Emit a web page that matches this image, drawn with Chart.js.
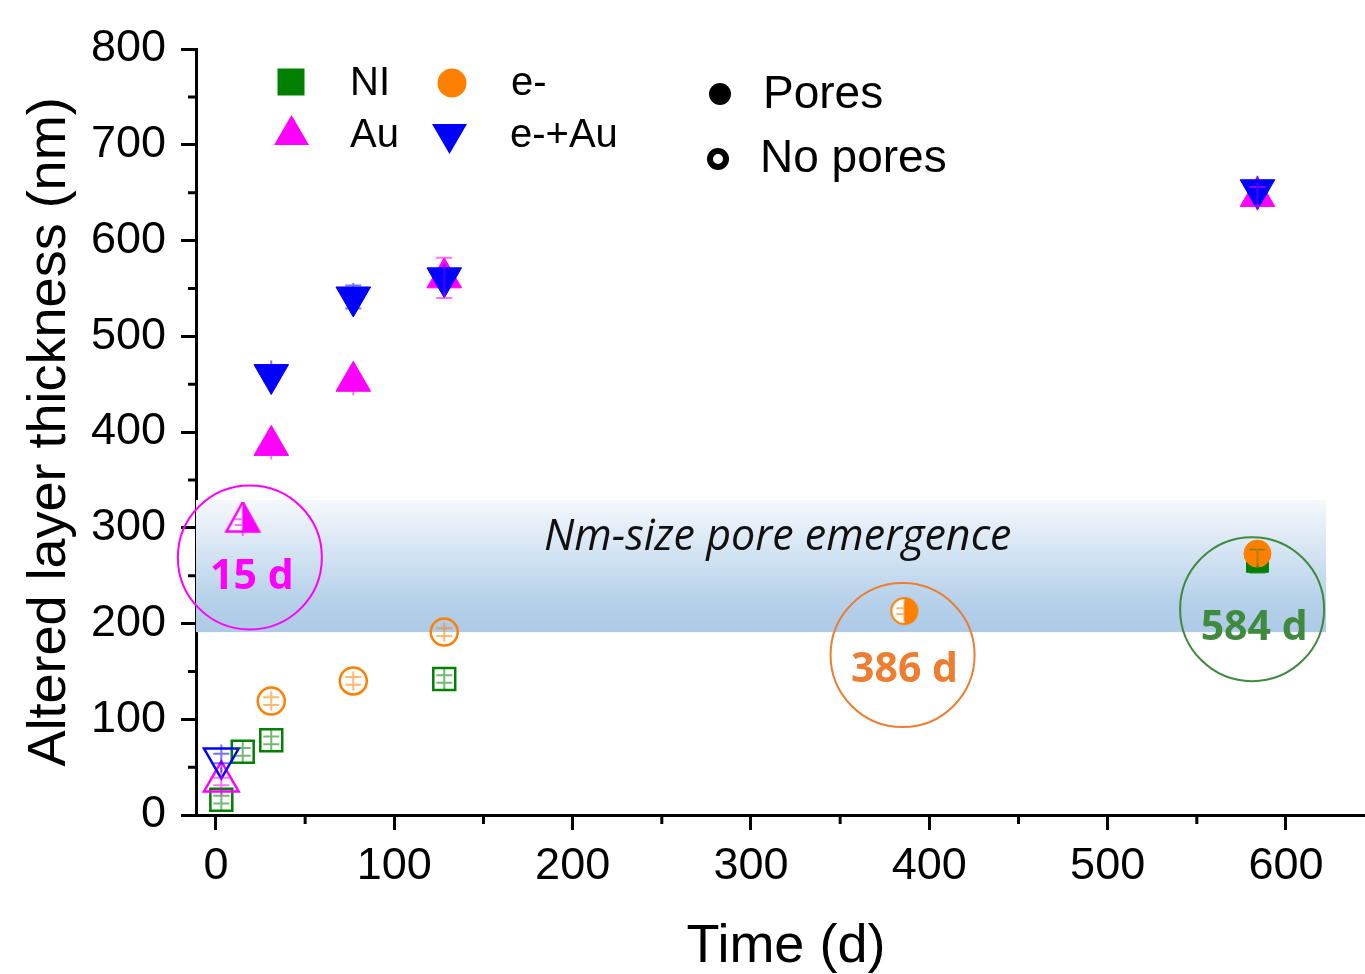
<!DOCTYPE html>
<html>
<head>
<meta charset="utf-8">
<script src="https://cdn.jsdelivr.net/npm/chart.js"></script>
<style>
  body { margin: 0; background: #fff; }
  #wrap { width: 1365px; height: 974px; }
</style>
</head>
<body>
<div id="wrap"><canvas id="myChart" width="1365" height="974"></canvas></div>
<script>
// data
var niX = [3, 15, 31, 128, 584];
var niY = [16, 66, 78, 142, 265];
var niErr = [4, 4, 4, 4, 12];
var niState = ['open', 'open', 'open', 'open', 'filled'];

var eX = [31, 77, 128, 386, 584];
var eY = [119, 140, 191, 213, 273];
var eErr = [4, 4, 4, 3, 3];
var eState = ['open', 'open', 'open', 'half', 'filled'];

var auX = [3, 15, 31, 77, 128, 584];
var auY = [35, 306, 386, 453, 561, 646];
var auErr = [4, 3, 3, 3, 21, 10];
var auState = ['open', 'half', 'filled', 'filled', 'filled', 'filled'];

var eauX = [3, 31, 77, 128, 584];
var eauY = [59, 460, 541, 561, 653];
var eauErr = [5, 3, 12, 5, 5];
var eauState = ['open', 'filled', 'filled', 'filled', 'filled'];

var xTicks = [0, 100, 200, 300, 400, 500, 600];
var yTicks = [0, 100, 200, 300, 400, 500, 600, 700, 800];

// pore emergence band and day labels
var bandX = [-11.2, 622.5];
var bandY = [191, 329];
var dayLabels = ['15 d', '386 d', '584 d'];
var dayCircleX = [19, 385, 581];
var dayCircleY = [269, 167, 215];
var dayTextY = [248, 151, 195];

var GREEN = '#008000', ORANGE = '#ff8000', MAGENTA = '#ff00ff', BLUE = '#0000ff';

function halfTriangle(color) {
  var c = document.createElement('canvas');
  c.width = 38; c.height = 40;
  var g = c.getContext('2d');
  var cx = 19, cy = 20, r = 20, hw = r * Math.sin(Math.PI / 3);
  g.beginPath();
  g.moveTo(cx, cy - r); g.lineTo(cx - hw, cy + r / 2); g.lineTo(cx + hw, cy + r / 2); g.closePath();
  g.fillStyle = '#fff'; g.fill();
  g.beginPath();
  g.moveTo(cx, cy - r); g.lineTo(cx + hw, cy + r / 2); g.lineTo(cx, cy + r / 2); g.closePath();
  g.fillStyle = color; g.fill();
  g.beginPath();
  g.moveTo(cx, cy - r); g.lineTo(cx - hw + 1, cy + r / 2 - 0.5); g.lineTo(cx + hw - 1, cy + r / 2 - 0.5); g.closePath();
  g.strokeStyle = color; g.lineWidth = 2.5; g.stroke();
  return c;
}

function halfCircle(color) {
  var c = document.createElement('canvas');
  c.width = 32; c.height = 32;
  var g = c.getContext('2d');
  g.beginPath(); g.arc(16, 16, 13, 0, Math.PI * 2); g.fillStyle = '#fff'; g.fill();
  g.beginPath(); g.moveTo(16, 3); g.arc(16, 16, 13, -Math.PI / 2, Math.PI / 2); g.closePath();
  g.fillStyle = color; g.fill();
  g.beginPath(); g.arc(16, 16, 13, 0, Math.PI * 2); g.strokeStyle = color; g.lineWidth = 2; g.stroke();
  return c;
}

function makeSet(label, xs, ys, errs, states, color, style, radius, order, rot) {
  var half = style === 'triangle' ? halfTriangle(color) : halfCircle(color);
  return {
    label: label,
    data: xs.map(function (v, i) { return { x: v, y: ys[i] }; }),
    errors: errs,
    order: order,
    pointStyle: states.map(function (s) { return s === 'half' ? half : style; }),
    pointRotation: rot || 0,
    pointRadius: radius,
    pointBackgroundColor: states.map(function (s) { return s === 'filled' ? color : 'rgba(0,0,0,0)'; }),
    pointBorderColor: color,
    pointBorderWidth: states.map(function (s) { return s === 'filled' ? 1 : 2.5; }),
    showLine: false,
    color: color
  };
}

function rgba(hex, a) {
  var n = parseInt(hex.slice(1), 16);
  return 'rgba(' + (n >> 16) + ',' + ((n >> 8) & 255) + ',' + (n & 255) + ',' + a + ')';
}

var overlay = {
  id: 'overlay',
  beforeDatasetsDraw: function (chart) {
    var ctx = chart.ctx, x = chart.scales.x, y = chart.scales.y;
    var l = x.getPixelForValue(bandX[0]), r = x.getPixelForValue(bandX[1]);
    var t = y.getPixelForValue(bandY[1]), b = y.getPixelForValue(bandY[0]);
    var g = ctx.createLinearGradient(0, t, 0, b);
    g.addColorStop(0, '#f5f8fc');
    g.addColorStop(0.8, '#b3cfe9');
    g.addColorStop(1, '#aecae7');
    ctx.save();
    ctx.fillStyle = g;
    ctx.fillRect(l, t, r - l, b - t);
    ctx.fillStyle = '#111';
    ctx.font = 'italic 43px "Open Sans"';
    ctx.textAlign = 'center';
    ctx.textBaseline = 'middle';
    ctx.fillText('Nm-size pore emergence', x.getPixelForValue(315), y.getPixelForValue(290));
    ctx.restore();
  },
  afterDatasetsDraw: function (chart) {
    var ctx = chart.ctx, y = chart.scales.y;
    ctx.save();
    chart.data.datasets.forEach(function (ds, di) {
      var meta = chart.getDatasetMeta(di);
      meta.data.forEach(function (pt, i) {
        var v = ds.data[i].y, e = ds.errors[i];
        var top = y.getPixelForValue(v + e), bot = y.getPixelForValue(v - e);
        var reach = ds.pointRadius * 0.7;
        ctx.strokeStyle = rgba(ds.color, 0.55);
        ctx.lineWidth = 2;
        ctx.beginPath();
        ctx.moveTo(pt.x, Math.min(top, pt.y - reach));
        ctx.lineTo(pt.x, Math.max(bot, pt.y + reach));
        ctx.moveTo(pt.x - 8, top); ctx.lineTo(pt.x + 8, top);
        ctx.moveTo(pt.x - 8, bot); ctx.lineTo(pt.x + 8, bot);
        ctx.stroke();
      });
    });
    ctx.restore();
  },
  afterDraw: function (chart) {
    var ctx = chart.ctx, x = chart.scales.x, y = chart.scales.y, area = chart.chartArea;
    var cols = [MAGENTA, '#ed7d31', '#3f8a3f'];
    ctx.save();
    // minor ticks
    ctx.strokeStyle = '#000';
    ctx.lineWidth = 3;
    ctx.beginPath();
    for (var v = 50; v < 800; v += 100) {
      var py = y.getPixelForValue(v);
      ctx.moveTo(area.left - 8, py); ctx.lineTo(area.left, py);
    }
    for (var h = 50; h < x.max; h += 100) {
      var px = x.getPixelForValue(h);
      ctx.moveTo(px, area.bottom); ctx.lineTo(px, area.bottom + 9);
    }
    ctx.stroke();
    // day circles
    dayLabels.forEach(function (txt, i) {
      var cx = x.getPixelForValue(dayCircleX[i]), cy = y.getPixelForValue(dayCircleY[i]);
      ctx.beginPath();
      ctx.arc(cx, cy, 72, 0, Math.PI * 2);
      ctx.strokeStyle = cols[i];
      ctx.lineWidth = 2;
      ctx.stroke();
      ctx.fillStyle = cols[i];
      ctx.font = 'bold 41px "Open Sans"';
      ctx.textAlign = 'center';
      ctx.textBaseline = 'middle';
      ctx.fillText(txt, cx + 2, y.getPixelForValue(dayTextY[i]));
    });
    // legend
    ctx.fillStyle = GREEN;
    ctx.fillRect(277.5, 68.5, 27, 27);
    ctx.fillStyle = ORANGE;
    ctx.beginPath(); ctx.arc(452, 83, 14.5, 0, Math.PI * 2); ctx.fill();
    ctx.fillStyle = MAGENTA;
    ctx.beginPath(); ctx.moveTo(291.5, 115); ctx.lineTo(274, 145); ctx.lineTo(309, 145); ctx.closePath(); ctx.fill();
    ctx.fillStyle = BLUE;
    ctx.beginPath(); ctx.moveTo(432, 124); ctx.lineTo(467, 124); ctx.lineTo(449.5, 154); ctx.closePath(); ctx.fill();
    ctx.fillStyle = '#000';
    ctx.textAlign = 'left';
    ctx.textBaseline = 'middle';
    ctx.font = '40px "Liberation Sans", Arial';
    ctx.fillText('NI', 350, 84);
    ctx.fillText('e-', 511, 84);
    ctx.fillText('Au', 350, 136);
    ctx.fillText('e-+Au', 510, 136);
    ctx.beginPath(); ctx.arc(720, 94, 11, 0, Math.PI * 2); ctx.fill();
    ctx.beginPath(); ctx.arc(718, 159, 8, 0, Math.PI * 2); ctx.lineWidth = 6; ctx.strokeStyle = '#000'; ctx.stroke();
    ctx.font = '46px "Liberation Sans", Arial';
    ctx.fillText('Pores', 763, 95);
    ctx.fillText('No pores', 760, 159);
    ctx.restore();
  }
};

var axisFont = { family: '"Liberation Sans", Arial', size: 45 };
var titleFont = { family: '"Liberation Sans", Arial', size: 54, lineHeight: 1 };

var ctx = document.getElementById('myChart').getContext('2d');
var chart = new Chart(ctx, {
  type: 'scatter',
  data: {
    datasets: [
      makeSet('NI', niX, niY, niErr, niState, GREEN, 'rect', 15.5, 4),
      makeSet('e-', eX, eY, eErr, eState, ORANGE, 'circle', 13.5, 3),
      makeSet('Au', auX, auY, auErr, auState, MAGENTA, 'triangle', 20, 2),
      makeSet('e-+Au', eauX, eauY, eauErr, eauState, BLUE, 'triangle', 20, 1, 180)
    ]
  },
  options: {
    responsive: false,
    devicePixelRatio: 1,
    animation: false,
    events: [],
    layout: { autoPadding: false, padding: { top: 49, left: 0, right: 0, bottom: 0 } },
    plugins: { legend: { display: false }, tooltip: { enabled: false } },
    scales: {
      x: {
        type: 'linear',
        min: -11.2,
        max: 644.3,
        afterFit: function (s) { s.height = 159; s.paddingLeft = 0; s.paddingRight = 0; },
        afterBuildTicks: function (s) { s.ticks = xTicks.map(function (v) { return { value: v }; }); },
        ticks: { color: '#000', font: axisFont, padding: 10, maxRotation: 0, includeBounds: false },
        grid: { drawOnChartArea: false, tickLength: 15, tickWidth: 3, tickColor: '#000' },
        border: { display: true, width: 3, color: '#000' },
        title: { display: true, text: '\u2009Time (d)', color: '#000', font: titleFont, padding: { top: 0, bottom: 0 } }
      },
      y: {
        type: 'linear',
        min: 0,
        max: 800,
        afterFit: function (s) { s.width = 196; s.paddingTop = 0; s.paddingBottom = 0; },
        afterBuildTicks: function (s) { s.ticks = yTicks.map(function (v) { return { value: v }; }); },
        ticks: { color: '#000', font: axisFont, padding: 15 },
        grid: { drawOnChartArea: false, tickLength: 15, tickWidth: 3, tickColor: '#000' },
        border: { display: true, width: 3, color: '#000' },
        title: { display: true, text: 'Altered layer thickness (nm)', color: '#000', font: titleFont, padding: { top: 23, bottom: 0 } }
      }
    }
  },
  plugins: [overlay]
});
</script>
</body>
</html>
